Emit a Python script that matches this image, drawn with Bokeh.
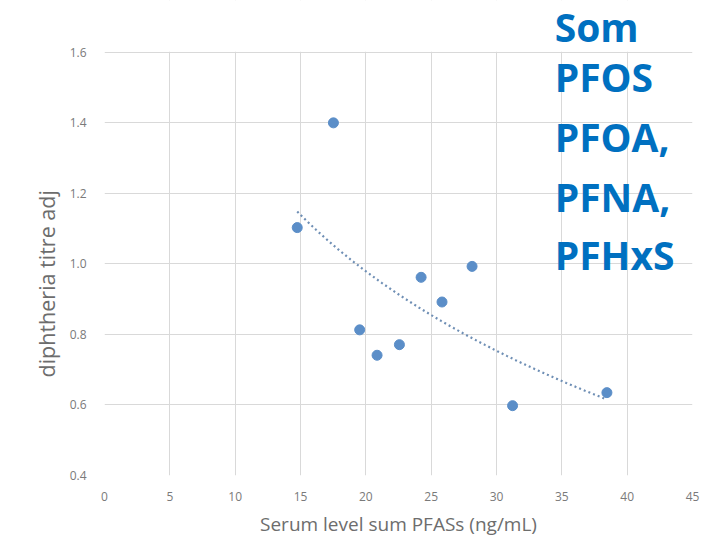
import numpy as np
from bokeh.plotting import figure
from bokeh.models import Label, FixedTicker, BoxAnnotation, Title
from bokeh.embed import file_html
from bokeh.resources import INLINE

# Data
pfas_sum = [14.75, 17.52, 19.53, 20.86, 22.57, 24.23, 25.83, 28.13, 31.23, 38.45]
diphtheria_titre = [1.103, 1.40, 0.813, 0.741, 0.771, 0.962, 0.892, 0.993, 0.598, 0.635]
x_ticks = [0, 5, 10, 15, 20, 25, 30, 35, 40, 45]
y_ticks = [0.4, 0.6, 0.8, 1.0, 1.2, 1.4, 1.6]
side_lines = ["Som", "PFOS", "PFOA,", "PFNA,", "PFHxS"]
side_y = [1.672, 1.531, 1.362, 1.192, 1.027]

Y_MIN, Y_MAX = 0.4, 1.6
# frame extended above the chart so the side text is not clipped
p = figure(width=707, height=539, x_range=(0, 45), y_range=(Y_MIN, 1.747),
           output_backend="svg", toolbar_location=None,
           min_border_left=104, min_border_right=15, min_border_top=0, min_border_bottom=63)
p.outline_line_color = None
p.background_fill_color = "white"
p.border_fill_color = "white"

for ax in (p.xaxis, p.yaxis):
    ax.axis_line_color = None
    ax.major_tick_line_color = None
    ax.minor_tick_line_color = None
    ax.major_label_text_font = "Open Sans"
    ax.major_label_text_font_size = "12px"
    ax.major_label_text_color = "#7a7a7a"
    ax.axis_label_text_font = "Open Sans"
    ax.axis_label_text_font_style = "normal"
    ax.axis_label_text_color = "#6d6d6d"

p.xaxis.axis_label_text_font_size = "19px"
p.xaxis.ticker = FixedTicker(ticks=x_ticks)
p.yaxis.ticker = FixedTicker(ticks=y_ticks)
p.yaxis.major_label_overrides = {v: f"{v:.1f}" for v in y_ticks}
p.xaxis.major_label_standoff = 10
p.yaxis.major_label_standoff = 12
p.xaxis.axis_label = "Serum level sum PFASs (ng/mL)"
p.xaxis.axis_label_standoff = 7

# y-axis title, placed along the chart's own height
p.add_layout(Title(text="diphtheria titre adj", align="left", offset=98, standoff=12,
                   text_font="Open Sans", text_font_style="normal", text_font_size="21.5px",
                   text_color="#6d6d6d"), "left")

p.xgrid.ticker = FixedTicker(ticks=x_ticks)
p.ygrid.ticker = FixedTicker(ticks=y_ticks)
for g in (p.xgrid, p.ygrid):
    g.grid_line_color = "#d9d9d9"
    g.grid_line_width = 1

# white mask above the chart's top gridline
p.add_layout(BoxAnnotation(bottom=Y_MAX + 0.002, fill_color="white", fill_alpha=1.0,
                           line_color=None))

# Logarithmic trend line fitted to the data
lx = np.log(np.array(pfas_sum))
b, a = np.polyfit(lx, np.array(diphtheria_titre), 1)
xs = np.linspace(min(pfas_sum), max(pfas_sum), 100)
p.line(xs, a + b * np.log(xs), line_color="#6f8fb5", line_width=2.2, line_dash="2 3")

p.scatter(pfas_sum, diphtheria_titre, size=10, fill_color="#5b8ec8", line_color="#5b8ec8")

for txt, yy in zip(side_lines, side_y):
    p.add_layout(Label(x=34.45, y=yy, text=txt, text_font="Open Sans",
                       text_font_style="bold", text_font_size="39px",
                       text_color="#0070c0", text_baseline="alphabetic", text_align="left"))

open("out.html", "w").write(file_html(p, INLINE))
